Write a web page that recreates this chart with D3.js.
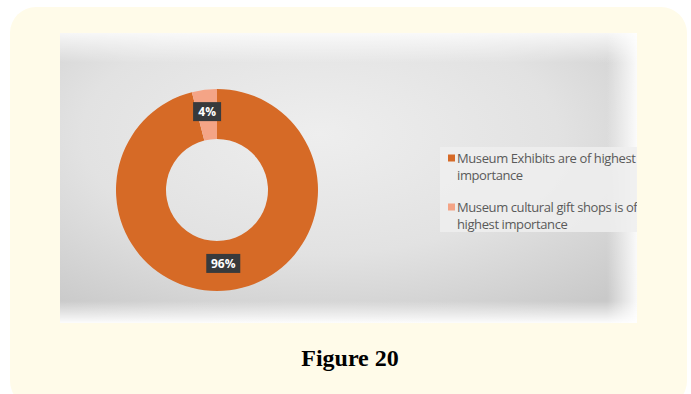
<!DOCTYPE html>
<html>
<head>
<meta charset="utf-8">
<script src="https://cdn.jsdelivr.net/npm/d3@7"></script>
<style>
  html, body { margin: 0; padding: 0; background: #ffffff; }
  svg { display: block; }
</style>
</head>
<body>
<svg id="chart" width="691" height="394"></svg>
<script>
// Share of respondents by what they rate as most important
const categories = [
  "Museum Exhibits are of highest importance",
  "Museum cultural gift shops is of highest importance"
];
const legendLines = [
  ["Museum Exhibits are of highest", "importance"],
  ["Museum cultural gift shops is of", "highest importance"]
];
const values = [96, 4];
const sliceColors = ["#d66a27", "#f4a486"];
const caption = "Figure 20";

const svg = d3.select("#chart");
const defs = svg.append("defs");

// card
svg.append("rect")
  .attr("x", 10).attr("y", 7).attr("width", 677).attr("height", 400)
  .attr("rx", 26).attr("fill", "#fffbe9");

// plot panel with soft vignette
const panel = { x: 60, y: 33, w: 577, h: 290 };
const rg = defs.append("radialGradient").attr("id", "bg")
  .attr("cx", "45%").attr("cy", "35%").attr("r", "75%");
rg.append("stop").attr("offset", "0%").attr("stop-color", "#eeeeee");
rg.append("stop").attr("offset", "55%").attr("stop-color", "#e2e2e2");
rg.append("stop").attr("offset", "100%").attr("stop-color", "#c9c9c9");

const fadeR = defs.append("linearGradient").attr("id", "fadeR");
fadeR.append("stop").attr("offset", "0%").attr("stop-color", "#fff").attr("stop-opacity", 0);
fadeR.append("stop").attr("offset", "100%").attr("stop-color", "#fff").attr("stop-opacity", 0.9);
const fadeB = defs.append("linearGradient").attr("id", "fadeB")
  .attr("x1", 0).attr("y1", 0).attr("x2", 0).attr("y2", 1);
fadeB.append("stop").attr("offset", "0%").attr("stop-color", "#fff").attr("stop-opacity", 0);
fadeB.append("stop").attr("offset", "100%").attr("stop-color", "#fff").attr("stop-opacity", 0.95);
const fadeT = defs.append("linearGradient").attr("id", "fadeT")
  .attr("x1", 0).attr("y1", 0).attr("x2", 0).attr("y2", 1);
fadeT.append("stop").attr("offset", "0%").attr("stop-color", "#fff").attr("stop-opacity", 0.8);
fadeT.append("stop").attr("offset", "100%").attr("stop-color", "#fff").attr("stop-opacity", 0);

defs.append("clipPath").attr("id", "panelClip")
  .append("rect").attr("x", panel.x).attr("y", panel.y)
  .attr("width", panel.w).attr("height", panel.h);

const soft = defs.append("filter").attr("id", "soft");
soft.append("feGaussianBlur").attr("stdDeviation", 0.6);

const g = svg.append("g").attr("clip-path", "url(#panelClip)");
g.append("rect").attr("x", panel.x).attr("y", panel.y)
  .attr("width", panel.w).attr("height", panel.h).attr("fill", "url(#bg)");
g.append("rect").attr("x", panel.x).attr("y", panel.y)
  .attr("width", panel.w).attr("height", 30).attr("fill", "url(#fadeT)");
g.append("rect").attr("x", panel.x + panel.w - 30).attr("y", panel.y)
  .attr("width", 30).attr("height", panel.h).attr("fill", "url(#fadeR)");
g.append("rect").attr("x", panel.x).attr("y", panel.y + panel.h - 22)
  .attr("width", panel.w).attr("height", 22).attr("fill", "url(#fadeB)");

// donut
const cx = 217, cy = 190, outerR = 101, innerR = 51;
const pie = d3.pie().sort(null).value(d => d);
const arcs = pie(values);
const arc = d3.arc().innerRadius(innerR).outerRadius(outerR);
const color = d3.scaleOrdinal().domain(categories).range(sliceColors);

const donut = g.append("g").attr("transform", `translate(${cx},${cy})`)
  .attr("filter", "url(#soft)");
donut.selectAll("path").data(arcs).join("path")
  .attr("d", arc)
  .attr("fill", (d, i) => color(categories[i]));

// data labels in dark boxes, placed along the ring
const labelRadius = [74, 79];
const labels = g.append("g").attr("transform", `translate(${cx},${cy})`);
arcs.forEach((d, i) => {
  const la = d3.arc().innerRadius(labelRadius[i]).outerRadius(labelRadius[i]);
  const [lx, ly] = la.centroid(d);
  const txt = d3.format(".0f")(d.data) + "%";
  const w = txt.length * 6 + 16;
  const lg = labels.append("g").attr("transform", `translate(${lx - (i === 0 ? 3 : 0)},${ly})`);
  lg.append("rect")
    .attr("x", -w / 2).attr("y", -9.5).attr("width", w).attr("height", 19)
    .attr("fill", "#383a3c");
  lg.append("text")
    .attr("text-anchor", "middle").attr("dy", "0.35em")
    .attr("font-family", "'Open Sans', 'DejaVu Sans', sans-serif")
    .attr("font-weight", 700).attr("font-size", 12)
    .attr("fill", "#ffffff").text(txt);
});

// legend
const legend = g.append("g");
legend.append("rect").attr("x", 440).attr("y", 147).attr("width", 200).attr("height", 85)
  .attr("fill", "#efefef").attr("opacity", 0.85);
const legendY = [158, 207];
legendLines.forEach((lines, i) => {
  const item = legend.append("g").attr("transform", `translate(448,${legendY[i]})`);
  item.append("rect").attr("x", 0).attr("y", -3.5).attr("width", 7).attr("height", 7)
    .attr("fill", color(categories[i]));
  const t = item.append("text")
    .attr("font-family", "'Open Sans', 'Noto Sans', sans-serif")
    .attr("font-size", 13).attr("fill", "#5a5a5a")
    .attr("letter-spacing", -0.4);
  lines.forEach((ln, j) => {
    t.append("tspan").attr("x", 9).attr("y", 4.5 + j * 17).text(ln);
  });
});

// caption
svg.append("text")
  .attr("x", 350).attr("y", 366).attr("text-anchor", "middle")
  .attr("font-family", "'Liberation Serif', 'DejaVu Serif', serif")
  .attr("font-weight", 700).attr("font-size", 24).attr("fill", "#000")
  .text(caption);
</script>
</body>
</html>
